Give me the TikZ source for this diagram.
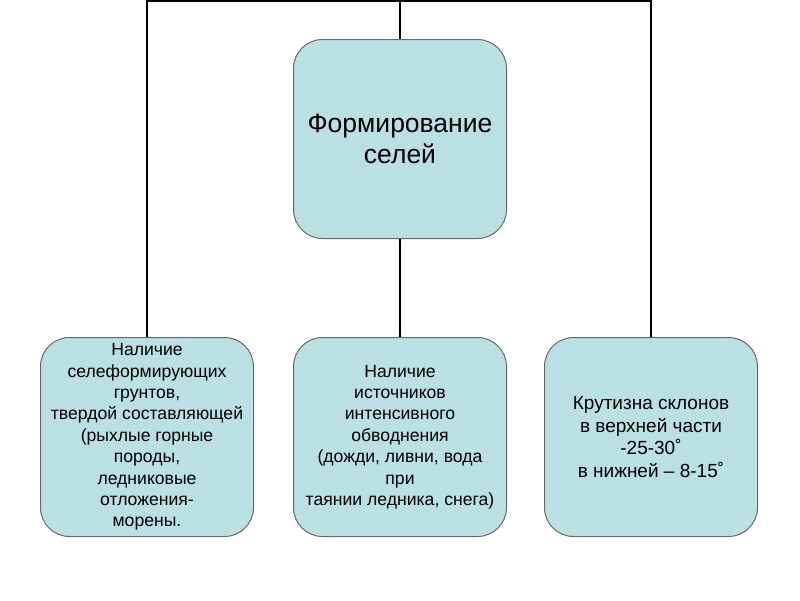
\documentclass[tikz,border=0pt]{standalone}
\usepackage{fontspec}
\setmainfont{Liberation Sans}
\definecolor{boxfill}{RGB}{187,224,227}
\definecolor{boxline}{RGB}{105,105,105}
\begin{document}
\begin{tikzpicture}[x=1pt,y=-1pt,
  card/.style={draw=boxline,fill=boxfill,line width=1pt,rounded corners=29pt,
    minimum width=213pt,minimum height=199pt,align=center,inner sep=0pt},
  small/.style={font=\fontsize{17.6}{21.4}\selectfont},
  wire/.style={line width=2pt,black}]
\useasboundingbox (0,0) rectangle (800,600);
\node[card,font=\fontsize{26.5}{31}\selectfont] (top) at (400,139) {Формирование\\селей};
\node[card,small] (left) at (147,437) {Наличие\\селеформирующих\\грунтов,\\твердой составляющей\\(рыхлые горные\\породы,\\ледниковые\\отложения-\\морены.};
\node[card,small] (mid) at (400,437) {Наличие\\источников\\интенсивного\\обводнения\\(дожди, ливни, вода\\при\\таянии ледника, снега)};
\node[card,font=\fontsize{19}{22.7}\selectfont] (right) at (651,437) {Крутизна склонов\\в верхней части\\-25-30˚\\в нижней – 8-15˚};
\coordinate (bus) at (400,1);
\draw[wire] (left.north) |- (bus) -| (right.north);
\draw[wire] (bus) -- (top.north);
\draw[wire] (top.south) -- (mid.north);
\end{tikzpicture}
\end{document}
